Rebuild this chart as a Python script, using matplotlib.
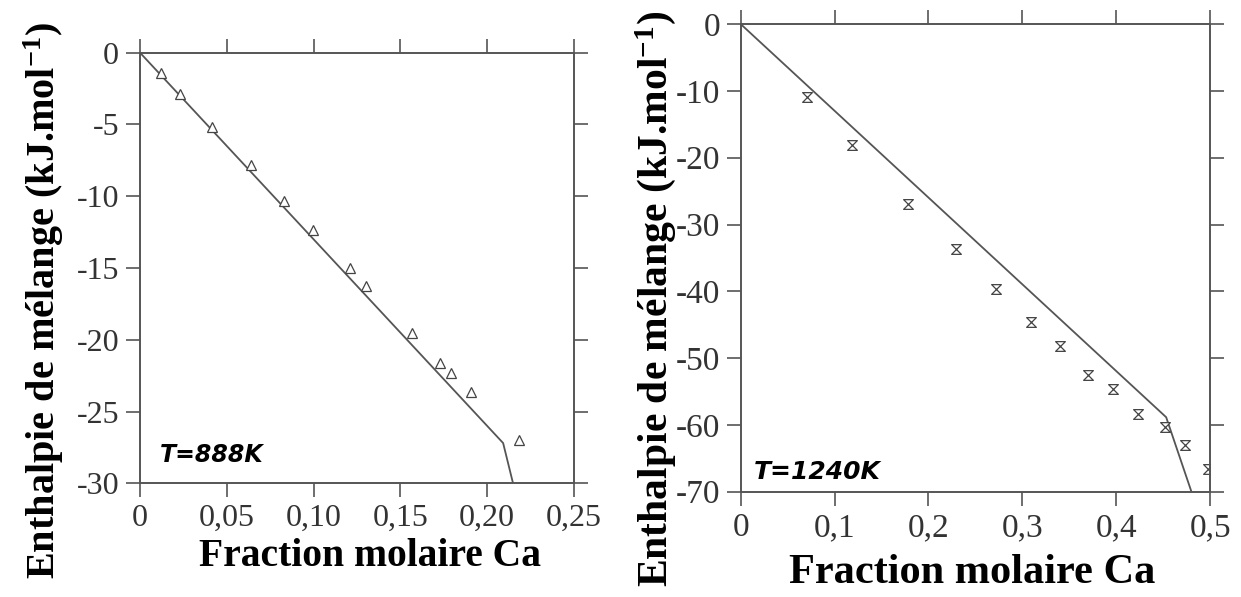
import matplotlib
matplotlib.use("Agg")
import matplotlib.pyplot as plt
from matplotlib.path import Path

plt.rcParams["font.family"] = ["Liberation Serif", "DejaVu Serif"]
plt.rcParams["mathtext.fontset"] = "custom"
plt.rcParams["mathtext.rm"] = "Liberation Serif:bold"
plt.rcParams["mathtext.default"] = "rm"

# T = 888 K
x_888 = [0.0119, 0.0231, 0.0417, 0.0638, 0.0832, 0.0996, 0.1211, 0.1303,
         0.1567, 0.1726, 0.1792, 0.1907, 0.2182]
h_888 = [-1.45, -2.9, -5.2, -7.85, -10.3, -12.35, -15.0, -16.25,
         -19.55, -21.6, -22.3, -23.65, -27.0]
calc_x_888 = [0.0, 0.2092, 0.2149]
calc_h_888 = [0.0, -27.2, -30.0]
xticks_888 = [0, 0.05, 0.10, 0.15, 0.20, 0.25]
xlabels_888 = ["0", "0,05", "0,10", "0,15", "0,20", "0,25"]
yticks_888 = [0, -5, -10, -15, -20, -25, -30]

# T = 1240 K
x_1240 = [0.0702, 0.1181, 0.1783, 0.2298, 0.2723, 0.3088, 0.3397, 0.3698,
          0.3964, 0.4234, 0.4521, 0.4737, 0.4982]
h_1240 = [-10.95, -18.1, -26.9, -33.65, -39.65, -44.65, -48.15, -52.6,
          -54.65, -58.35, -60.35, -63.0, -66.65]
calc_x_1240 = [0.0, 0.4532, 0.4801]
calc_h_1240 = [0.0, -58.85, -70.0]
xticks_1240 = [0, 0.1, 0.2, 0.3, 0.4, 0.5]
xlabels_1240 = ["0", "0,1", "0,2", "0,3", "0,4", "0,5"]
yticks_1240 = [0, -10, -20, -30, -40, -50, -60, -70]

hourglass = Path([(-1, 1), (1, 1), (-1, -1), (1, -1), (-1, 1)],
                 [Path.MOVETO, Path.LINETO, Path.LINETO, Path.LINETO, Path.CLOSEPOLY])

grey = "#555555"
ylab = "Enthalpie de mélange (kJ.mol$^{-1}$)"

fig = plt.figure(figsize=(12.41, 5.97), dpi=100)
ax1 = fig.add_axes([0.1128, 0.1905, 0.3497, 0.7213])
ax2 = fig.add_axes([0.5969, 0.1764, 0.3782, 0.7832])


def style(ax, xt, xl, yt, xmax, ymin, fs):
    ax.set_xlim(0, xmax)
    ax.set_ylim(ymin, 0)
    ax.set_xticks(xt)
    ax.set_xticklabels(xl)
    ax.set_yticks(yt)
    ax.set_yticklabels([str(v) for v in yt])
    ax.tick_params(direction="out", length=10, width=1.2, color=grey,
                   labelsize=fs, labelcolor="#333333", pad=5,
                   top=True, right=True)
    for s in ax.spines.values():
        s.set_color(grey)
        s.set_linewidth(1.4)


ax1.plot(calc_x_888, calc_h_888, color=grey, lw=1.3)
ax1.plot(x_888, h_888, linestyle="none", marker="^", ms=7,
         mfc="white", mec="#444444", mew=0.9)
style(ax1, xticks_888, xlabels_888, yticks_888, 0.25, -30, 23)
ax1.set_xlabel("Fraction molaire Ca", fontsize=28.5, fontweight="bold")
ax1.xaxis.set_label_coords(0.53, -0.127)
ax1.set_ylabel(ylab, fontsize=29, fontweight="bold")
ax1.yaxis.set_label_coords(-0.17, 0.4257)
ax1.text(0.046, 0.049, "T=888K", transform=ax1.transAxes, fontsize=17,
         fontweight="bold", fontstyle="italic", family="DejaVu Sans",
         va="baseline")

ax2.plot(calc_x_1240, calc_h_1240, color=grey, lw=1.3)
ax2.plot(x_1240, h_1240, linestyle="none", marker=hourglass, ms=7,
         mfc="white", mec="#444444", mew=0.9)
style(ax2, xticks_1240, xlabels_1240, yticks_1240, 0.5, -70, 24)
ax2.set_xlabel("Fraction molaire Ca", fontsize=30.5, fontweight="bold")
ax2.xaxis.set_label_coords(0.493, -0.133)
ax2.set_ylabel(ylab, fontsize=30, fontweight="bold")
ax2.yaxis.set_label_coords(-0.1336, 0.412)
ax2.text(0.028, 0.027, "T=1240K", transform=ax2.transAxes, fontsize=18,
         fontweight="bold", fontstyle="italic", family="DejaVu Sans",
         va="baseline")

fig.savefig("out.png", dpi=100)
